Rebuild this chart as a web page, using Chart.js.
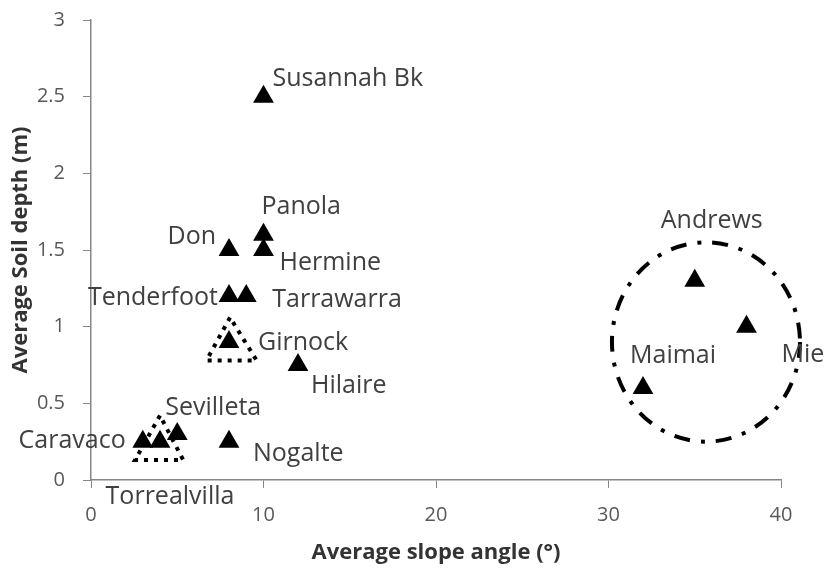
<!DOCTYPE html>
<html>
<head>
<meta charset="utf-8">
<script src="https://cdn.jsdelivr.net/npm/chart.js@4"></script>
<style>
  body { margin: 0; background: #fff; }
</style>
</head>
<body>
<canvas id="myChart" width="829" height="572"></canvas>
<script>
// catchments, slope angle (deg) and soil depth (m)
const sites = ["Susannah Bk", "Panola", "Hermine", "Don", "Tenderfoot", "Tarrawarra",
    "Girnock", "Hilaire", "Nogalte", "Caravaco", "Torrealvilla", "Sevilleta",
    "Andrews", "Mie", "Maimai"];
const slopeAngle = [10, 10, 10, 8, 8, 9, 8, 12, 8, 3, 4, 5, 35, 38, 32];
const soilDepth = [2.5, 1.6, 1.5, 1.5, 1.2, 1.2, 0.9, 0.75, 0.25, 0.25, 0.25, 0.3, 1.3, 1.0, 0.6];
const xTicks = [0, 10, 20, 30, 40];
const yTicks = [0, 0.5, 1, 1.5, 2, 2.5, 3];

// where each name sits relative to its marker (pixels)
const labelOffsets = {
    "Susannah Bk": [9, -18, "left"],
    "Panola": [-2, -28, "left"],
    "Hermine": [16, 13, "left"],
    "Don": [-13, -13, "right"],
    "Tenderfoot": [-11, 2, "right"],
    "Tarrawarra": [26, 4, "left"],
    "Girnock": [29, 1, "left"],
    "Hilaire": [13, 21, "left"],
    "Nogalte": [24, 12, "left"],
    "Caravaco": [-17, -1, "right"],
    "Torrealvilla": [10, 55, "center"],
    "Sevilleta": [-12, -26, "left"],
    "Andrews": [17, -60, "center"],
    "Mie": [35, 28, "left"],
    "Maimai": [-13, -32, "left"],
};

const gray = "#868686";

const annotations = {
    id: "annotations",
    beforeDatasetsDraw(chart) {
        const { ctx, scales: { x, y } } = chart;
        ctx.save();
        // dotted triangles round Girnock and the Spanish sites
        ctx.strokeStyle = "#000";
        ctx.lineWidth = 4;
        ctx.setLineDash([4, 6]);
        [[[8.06, 1.06], [6.7, 0.78], [9.6, 0.78]],
         [[4.0, 0.42], [2.55, 0.13], [5.35, 0.13]]].forEach(tri => {
            ctx.beginPath();
            tri.forEach((p, i) => {
                const px = x.getPixelForValue(p[0]), py = y.getPixelForValue(p[1]);
                if (i === 0) ctx.moveTo(px, py); else ctx.lineTo(px, py);
            });
            ctx.closePath();
            ctx.stroke();
        });
        // dash-dot ring round the steep sites
        const cx = x.getPixelForValue(35.65), cy = y.getPixelForValue(0.9);
        const rx = x.getPixelForValue(35.65 + 5.45) - cx;
        const ry = cy - y.getPixelForValue(0.9 + 0.65);
        ctx.lineWidth = 4;
        ctx.setLineDash([16, 11, 4, 11]);
        ctx.beginPath();
        ctx.ellipse(cx, cy, rx, ry, 0, 0, Math.PI * 2);
        ctx.stroke();
        ctx.restore();
    },
    afterDatasetsDraw(chart) {
        const { ctx, scales: { x, y } } = chart;
        ctx.save();
        ctx.font = "25px 'Open Sans'";
        ctx.fillStyle = "#404040";
        ctx.textBaseline = "middle";
        sites.forEach((name, i) => {
            const o = labelOffsets[name];
            ctx.textAlign = o[2];
            ctx.fillText(name, x.getPixelForValue(slopeAngle[i]) + o[0], y.getPixelForValue(soilDepth[i]) + o[1]);
        });
        ctx.restore();
    }
};

const ctx = document.getElementById("myChart");

new Chart(ctx, {
    type: "scatter",
    data: {
        datasets: [
            {
                data: sites.map((s, i) => ({ x: slopeAngle[i], y: soilDepth[i] })),
                pointStyle: "triangle",
                pointRadius: 12,
                backgroundColor: "#000",
                borderWidth: 0,
            },
        ],
    },
    options: {
        responsive: false,
        animation: false,
        layout: { padding: { top: 20, right: 48, left: 0, bottom: 0 } },
        plugins: {
            legend: { display: false },
            tooltip: { enabled: false },
        },
        scales: {
            x: {
                min: 0,
                max: 40,
                afterFit: s => { s.height = 92; s.paddingLeft = 0; s.paddingRight = 0; },
                afterBuildTicks: s => { s.ticks = xTicks.map(v => ({ value: v })); },
                grid: { drawOnChartArea: false, tickLength: 8, color: gray },
                border: { color: gray, width: 1.5 },
                ticks: { color: "#595959", font: { family: "Open Sans", size: 20 }, padding: 15,
                    callback: v => String(v) },
                title: {
                    display: true,
                    text: "Average slope angle (°)",
                    color: "#333",
                    font: { family: "Open Sans", size: 22, weight: "bold" },
                    padding: { bottom: 6 },
                },
            },
            y: {
                min: 0,
                max: 3,
                afterFit: s => { s.width = 91; s.paddingTop = 0; s.paddingBottom = 0; },
                afterBuildTicks: s => { s.ticks = yTicks.map(v => ({ value: v })); },
                grid: { drawOnChartArea: false, tickLength: 8, color: gray },
                border: { color: gray, width: 1.5 },
                ticks: { color: "#595959", font: { family: "Open Sans", size: 20 }, padding: 18,
                    callback: v => String(v) },
                title: {
                    display: true,
                    text: "Average Soil depth (m)",
                    color: "#333",
                    font: { family: "Open Sans", size: 22, weight: "bold" },
                    padding: { top: 8 },
                },
            },
        },
    },
    plugins: [annotations],
});
</script>
</body>
</html>
